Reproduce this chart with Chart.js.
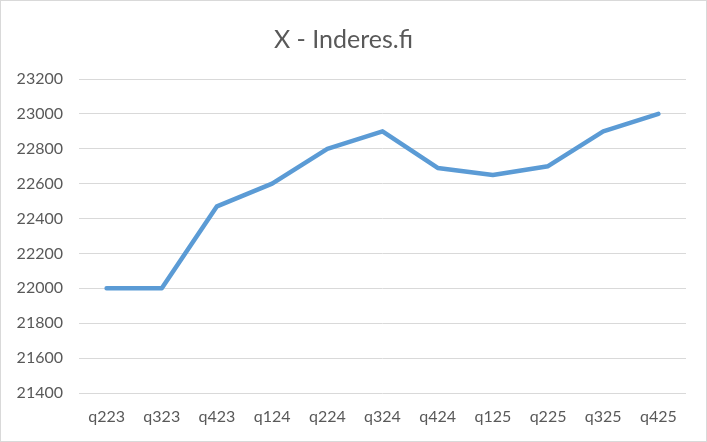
<!DOCTYPE html>
<html>
<head>
<meta charset="utf-8">
<script src="https://cdn.jsdelivr.net/npm/chart.js@4"></script>
<style>
  html, body { margin: 0; padding: 0; background: #fff; }
  #wrap { width: 705px; height: 440px; border: 1px solid #d9d9d9; }
</style>
</head>
<body>
<div id="wrap"><canvas id="chart" width="705" height="440"></canvas></div>
<script>
// === DATA ===
const labels = ["q223", "q323", "q423", "q124", "q224", "q324", "q424", "q125", "q225", "q325", "q425"];
const values = [22000, 22000, 22470, 22600, 22800, 22900, 22690, 22650, 22700, 22900, 23000];
const Y_MIN = 21400;
const Y_MAX = 23200;
const Y_STEP = 200;

const TXT = "#595959";
const GRID = "#d9d9d9";

const ctx = document.getElementById('chart').getContext('2d');
new Chart(ctx, {
    type: 'line',
    data: {
        labels: labels,
        datasets: [{
            label: 'X',
            data: values,
            borderColor: '#5b9bd5',
            borderWidth: 4.5,
            borderCapStyle: 'round',
            borderJoinStyle: 'round',
            pointRadius: 0,
            tension: 0,
            fill: false
        }]
    },
    options: {
        responsive: false,
        animation: false,
        layout: { padding: { left: 0, right: 20, top: 0, bottom: 0 } },
        plugins: {
            legend: { display: false },
            tooltip: { enabled: false },
            title: {
                display: true,
                text: 'X - Inderes.fi',
                color: TXT,
                font: { family: 'Lato', size: 25, weight: 'normal' },
                padding: { top: 24, bottom: 24 }
            }
        },
        scales: {
            x: {
                offset: true,
                grid: { display: false, drawTicks: false },
                border: { display: false },
                ticks: {
                    color: TXT,
                    font: { family: 'Lato', size: 16 },
                    padding: 14,
                    maxRotation: 0,
                    autoSkip: false
                },
                afterFit: (s) => { s.height = 48; }
            },
            y: {
                min: Y_MIN,
                max: Y_MAX,
                grid: { color: GRID, lineWidth: 1, drawTicks: false },
                border: { display: false },
                ticks: {
                    stepSize: Y_STEP,
                    color: TXT,
                    font: { family: 'Lato', size: 16 },
                    padding: 16,
                    callback: (v) => String(v)
                },
                afterFit: (s) => { s.width = 78; }
            }
        }
    }
});
</script>
</body>
</html>
